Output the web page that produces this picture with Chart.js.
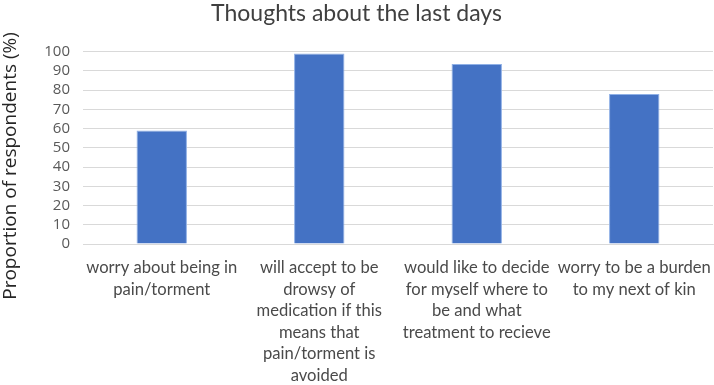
<!DOCTYPE html>
<html>
<head>
<meta charset="utf-8">
<script src="https://cdn.jsdelivr.net/npm/chart.js@4/dist/chart.umd.min.js"></script>
<style>
html,body{margin:0;padding:0;background:#fff;}
#wrap{width:714px;height:385px;position:relative;}
</style>
</head>
<body>
<div id="wrap"><canvas id="c" width="714" height="385"></canvas></div>
<script>
const titleText = "Thoughts about the last days";
const yAxisTitle = "Proportion of respondents (%)";
const categories = [
  ["worry about being in", "pain/torment"],
  ["will accept to be", "drowsy of", "medication if this", "means that", "pain/torment is", "avoided"],
  ["would like to decide", "for myself where to", "be and what", "treatment to recieve"],
  ["worry to be a burden", "to my next of kin"]
];
const values = [59, 99, 93.5, 78];
const yTicks = [0, 10, 20, 30, 40, 50, 60, 70, 80, 90, 100];

// Draws the y-axis title as canvas text, centered on the whole chart height
const yTitlePlugin = {
  id: 'yTitle',
  afterDraw(chart) {
    const ctx = chart.ctx;
    ctx.save();
    ctx.translate(11, 166);
    ctx.rotate(-Math.PI / 2);
    ctx.font = '19px "Open Sans"';
    ctx.fillStyle = '#262626';
    ctx.textAlign = 'center';
    ctx.textBaseline = 'middle';
    ctx.fillText(yAxisTitle, 0, 0);
    ctx.restore();
  }
};

new Chart(document.getElementById('c'), {
  type: 'bar',
  data: {
    labels: categories,
    datasets: [{
      data: values,
      backgroundColor: '#4472C4',
      borderColor: '#8fb0e6',
      borderWidth: 1,
      categoryPercentage: 1.0,
      barPercentage: 0.32
    }]
  },
  plugins: [yTitlePlugin],
  options: {
    responsive: false,
    animation: false,
    devicePixelRatio: 1,
    layout: { padding: { left: 0, right: 1, top: 0, bottom: 0 } },
    plugins: {
      legend: { display: false },
      tooltip: { enabled: false },
      title: {
        display: true,
        text: titleText,
        color: '#404040',
        font: { family: 'Lato', size: 23, weight: 'normal' },
        padding: { top: 0, bottom: 24 }
      }
    },
    scales: {
      x: {
        grid: { display: false, drawTicks: false },
        border: { display: true, color: '#d9d9d9', width: 1 },
        ticks: {
          color: '#4a4a4a',
          maxRotation: 0,
          autoSkip: false,
          padding: 13,
          font: { family: 'Lato', size: 16.6, lineHeight: 1.3 }
        },
        afterFit: (s) => { s.height = 141; s.paddingLeft = 0; s.paddingRight = 0; }
      },
      y: {
        min: 0,
        max: 100,
        afterBuildTicks: (s) => { s.ticks = yTicks.map(v => ({ value: v })); },
        grid: { color: '#d9d9d9', lineWidth: 1, drawTicks: false },
        border: { display: false },
        ticks: {
          color: '#595959',
          autoSkip: false,
          padding: 13,
          font: { family: 'Open Sans', size: 15 }
        },
        afterFit: (s) => { s.width = 83; s.paddingTop = 0; s.paddingBottom = 0; }
      }
    }
  }
});
</script>
</body>
</html>
